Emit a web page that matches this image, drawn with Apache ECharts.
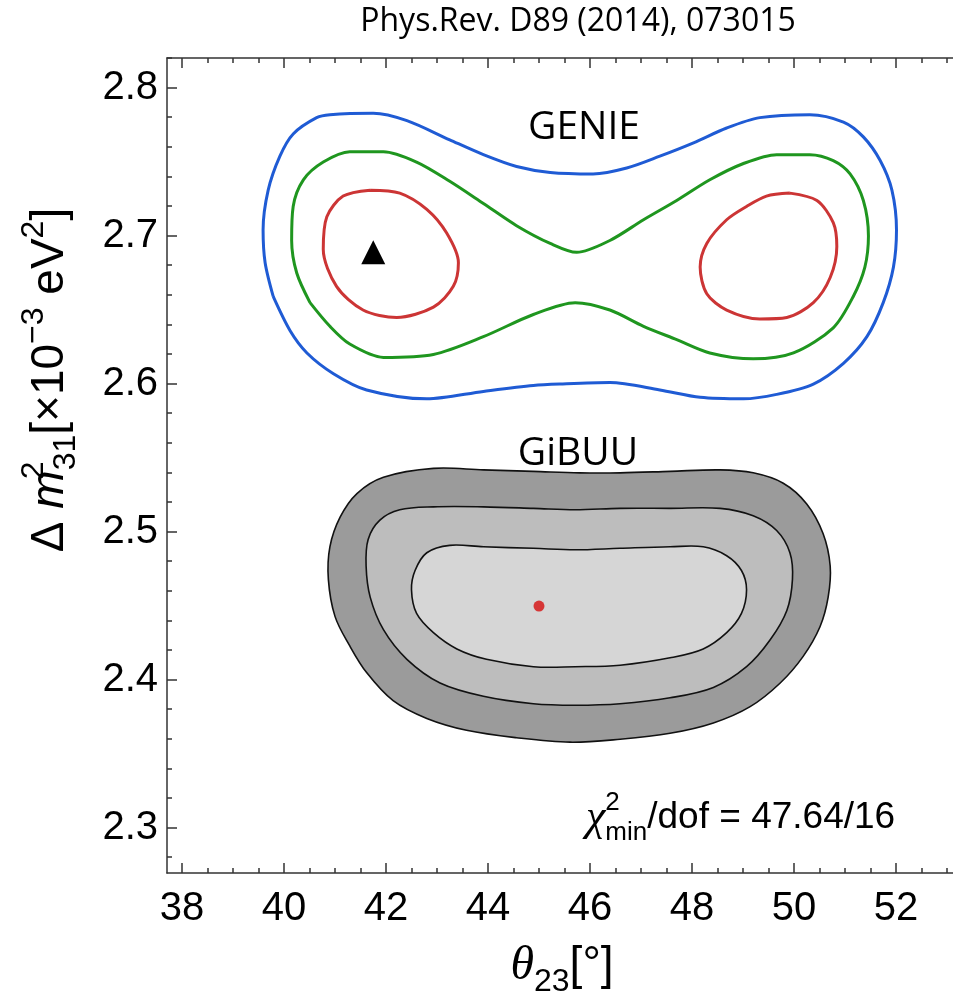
<!DOCTYPE html>
<html>
<head>
<meta charset="utf-8">
<script src="https://cdn.jsdelivr.net/npm/echarts@6/dist/echarts.min.js"></script>
<style>
  html, body { margin: 0; padding: 0; background: #fff; }
  #chart { width: 953px; height: 999px; }
</style>
</head>
<body>
<div id="chart"></div>
<script>
// theta23 [deg], dm2_31 [1e-3 eV^2]
const xTicks = [38, 40, 42, 44, 46, 48, 50, 52]
const yTicks = [2.3, 2.4, 2.5, 2.6, 2.7, 2.8]

// GENIE contours (3, 2, 1 sigma)
const genie3sigma = [[39.79,2.659],[39.63,2.682],[39.59,2.704],[39.69,2.731],[39.92,2.754],[40.18,2.769],[40.64,2.780],[40.90,2.782],[41.75,2.783],[42.41,2.778],[43.25,2.765],[43.91,2.755],[44.56,2.747],[45.22,2.743],[46.06,2.742],[46.72,2.746],[47.37,2.754],[48.03,2.763],[48.68,2.773],[49.33,2.780],[50.31,2.782],[50.97,2.777],[51.36,2.767],[51.69,2.751],[51.92,2.731],[52.01,2.704],[51.95,2.679],[51.75,2.655],[51.43,2.632],[50.97,2.614],[50.38,2.600],[49.66,2.593],[49.01,2.590],[48.16,2.591],[47.37,2.596],[46.39,2.601],[45.41,2.600],[44.89,2.599],[43.91,2.595],[42.80,2.590],[41.62,2.596],[40.97,2.607],[40.45,2.621],[40.12,2.636],[39.79,2.659]]
const genie2sigma = [[40.51,2.655],[40.25,2.675],[40.15,2.697],[40.18,2.720],[40.38,2.738],[40.77,2.750],[41.29,2.757],[41.95,2.757],[42.60,2.750],[43.25,2.737],[43.91,2.722],[44.56,2.707],[45.22,2.695],[45.74,2.689],[46.39,2.697],[47.05,2.711],[47.70,2.724],[48.35,2.738],[49.01,2.749],[49.66,2.755],[50.31,2.755],[50.77,2.751],[51.10,2.742],[51.36,2.724],[51.46,2.700],[51.39,2.679],[51.16,2.659],[50.77,2.638],[49.99,2.621],[49.20,2.617],[48.35,2.621],[47.70,2.630],[47.05,2.639],[46.39,2.650],[45.71,2.655],[44.89,2.647],[43.91,2.632],[42.93,2.620],[41.95,2.618],[41.29,2.627],[40.90,2.639],[40.51,2.655]]
const genie1sigmaLeft = [[41.69,2.731],[42.27,2.729],[42.80,2.718],[43.19,2.702],[43.42,2.682],[43.32,2.666],[42.93,2.652],[42.21,2.645],[41.55,2.650],[41.03,2.666],[40.77,2.691],[40.84,2.713],[41.16,2.727],[41.69,2.731]]
const genie1sigmaRight = [[49.92,2.729],[50.45,2.724],[50.77,2.709],[50.84,2.693],[50.71,2.672],[50.38,2.655],[49.86,2.645],[49.33,2.644],[48.68,2.650],[48.29,2.661],[48.16,2.679],[48.29,2.695],[48.68,2.711],[49.07,2.720],[49.46,2.727],[49.92,2.729]]
const genieBest = [[41.75, 2.689]]

// GiBUU filled contours
const gibuuOuter = [[41.95,2.537],[42.93,2.543],[43.91,2.542],[44.89,2.541],[45.80,2.540],[46.59,2.540],[47.57,2.541],[48.55,2.542],[49.20,2.540],[49.79,2.533],[50.25,2.519],[50.57,2.499],[50.71,2.477],[50.67,2.456],[50.51,2.436],[50.18,2.416],[49.73,2.398],[49.14,2.382],[48.42,2.371],[47.57,2.364],[46.59,2.360],[45.61,2.358],[44.56,2.361],[43.58,2.366],[42.80,2.374],[42.14,2.386],[41.62,2.405],[41.29,2.423],[41.00,2.443],[40.87,2.468],[40.90,2.490],[41.10,2.510],[41.43,2.526]]
const gibuuMiddle = [[42.27,2.515],[42.93,2.517],[43.91,2.517],[44.89,2.516],[45.71,2.515],[46.59,2.516],[47.57,2.516],[48.55,2.516],[49.20,2.511],[49.66,2.501],[49.92,2.486],[49.97,2.468],[49.86,2.447],[49.53,2.427],[49.07,2.409],[48.42,2.395],[47.57,2.388],[46.59,2.384],[45.71,2.383],[44.89,2.384],[43.91,2.389],[43.06,2.398],[42.41,2.414],[41.95,2.434],[41.69,2.456],[41.61,2.477],[41.65,2.495],[41.88,2.508]]
const gibuuInner = [[42.80,2.486],[43.25,2.491],[43.91,2.490],[44.89,2.489],[45.71,2.488],[46.59,2.489],[47.57,2.490],[48.22,2.490],[48.68,2.484],[48.97,2.474],[49.07,2.461],[48.97,2.445],[48.68,2.432],[48.22,2.421],[47.57,2.415],[46.59,2.410],[45.71,2.409],[44.89,2.409],[43.97,2.414],[43.39,2.421],[42.93,2.432],[42.60,2.445],[42.50,2.461],[42.57,2.474]]
const gibuuBest = [[45.0, 2.45]]

const FRAME = '#333'
const SANS = 'Liberation Sans'
const SERIF = 'Liberation Serif'

const chart = echarts.init(document.getElementById('chart'))

const hidden = (gridIndex) => ({ gridIndex, type: 'value', min: 0, max: 1, show: false })

// frame side: axis line only
const frameAxis = (gridIndex, position, min, max) => ({
  gridIndex,
  type: 'value',
  position,
  min,
  max,
  axisLine: { show: true, onZero: false, lineStyle: { color: FRAME, width: 1.5 } },
  axisTick: { show: false },
  axisLabel: { show: false },
  splitLine: { show: false }
})

const tickAxis = (gridIndex, position, min, max, interval, length, labels) => ({
  gridIndex,
  type: 'value',
  position,
  min,
  max,
  interval,
  axisLine: { show: false },
  axisTick: { inside: true, length, lineStyle: { color: FRAME, width: 1.5 } },
  axisLabel: labels
    ? {
        show: true,
        fontSize: 40,
        fontFamily: SANS,
        color: '#000',
        margin: labels.margin,
        formatter: labels.formatter
      }
    : { show: false },
  splitLine: { show: false }
})

const contourLine = (data, color) => ({
  type: 'line',
  xAxisIndex: 0,
  yAxisIndex: 0,
  data,
  smooth: 0.3,
  symbol: 'none',
  silent: true,
  lineStyle: { color, width: 3 }
})

const filledContour = (points, fill) => ({
  type: 'custom',
  xAxisIndex: 0,
  yAxisIndex: 0,
  silent: true,
  data: [points[0]],
  renderItem: (params, api) => ({
    type: 'polygon',
    shape: { points: points.map(p => api.coord(p)), smooth: 0.35 },
    style: { fill, stroke: '#111', lineWidth: 1.6 }
  })
})

const txt = (x, y, text, extra) => Object.assign({
  type: 'text',
  x,
  y,
  z: 100,
  silent: true,
  style: Object.assign({
    text,
    align: 'center',
    textAlign: 'center',
    verticalAlign: 'middle',
    textVerticalAlign: 'middle',
    fill: '#000'
  }, extra.style)
}, extra.el || {})

const tok = (o) => Object.assign({ fill: '#000', color: '#000', fontFamily: SANS }, o)

const X_MIN = 37.706, X_MAX = 53.118
const Y_MIN = 2.2696, Y_MAX = 2.8203

const option = {
  animation: false,
  backgroundColor: '#fff',
  grid: [
    { left: 167, top: 58, width: 786, bottom: 126 },
    { left: 182, top: 58, width: 714, bottom: 126 },
    { left: 182, top: 58, width: 765, bottom: 126 },
    { left: 167, top: 88, width: 786, height: 740 },
    { left: 167, top: 58, width: 786, height: 799.2 }
  ],
  xAxis: [
    frameAxis(0, 'bottom', X_MIN, X_MAX),
    frameAxis(0, 'top', X_MIN, X_MAX),
    tickAxis(1, 'bottom', xTicks[0], xTicks[xTicks.length - 1], xTicks[1] - xTicks[0], 10, { margin: 16 }),
    tickAxis(1, 'top', xTicks[0], xTicks[xTicks.length - 1], xTicks[1] - xTicks[0], 10, null),
    tickAxis(2, 'bottom', 38, 53, 0.5, 5, null),
    tickAxis(2, 'top', 38, 53, 0.5, 5, null),
    hidden(3),
    hidden(4)
  ],
  yAxis: [
    frameAxis(0, 'left', Y_MIN, Y_MAX),
    hidden(1),
    hidden(2),
    tickAxis(3, 'left', yTicks[0], yTicks[yTicks.length - 1], 0.1, 10, { margin: 9, formatter: v => v.toFixed(1) }),
    tickAxis(4, 'left', 2.28, 2.82, 0.02, 5, null)
  ],
  series: [
    filledContour(gibuuOuter, '#9b9b9b'),
    filledContour(gibuuMiddle, '#bdbdbd'),
    filledContour(gibuuInner, '#d6d6d6'),
    contourLine(genie3sigma, '#1f5bd4'),
    contourLine(genie2sigma, '#1f961f'),
    contourLine(genie1sigmaLeft, '#cc3535'),
    contourLine(genie1sigmaRight, '#cc3535'),
    {
      type: 'scatter',
      xAxisIndex: 0,
      yAxisIndex: 0,
      data: genieBest,
      symbol: 'triangle',
      symbolSize: 24,
      itemStyle: { color: '#000', opacity: 1 },
      silent: true
    },
    {
      type: 'scatter',
      xAxisIndex: 0,
      yAxisIndex: 0,
      data: gibuuBest,
      symbol: 'circle',
      symbolSize: 11,
      itemStyle: { color: '#d63636', opacity: 1 },
      silent: true
    }
  ],
  graphic: [
    txt(578, 22, 'Phys.Rev. D89 (2014), 073015', { style: { fontSize: 32, fontFamily: 'Open Sans' } }),
    txt(584, 128, 'GENIE', { style: { fontSize: 39, fontFamily: 'Open Sans' } }),
    txt(578, 454, 'GiBUU', { style: { fontSize: 39, fontFamily: 'Open Sans' } }),
    txt(586, 818, '{c|χ}{s0|2}{b|min}{n|/dof = 47.64/16}', {
      style: {
        align: 'left',
        textAlign: 'left',
        rich: {
          c: tok({ fontSize: 44, fontFamily: SERIF, fontStyle: 'italic', lineHeight: 56 }),
          s0: tok({ fontSize: 26, width: 0, lineHeight: 26, verticalAlign: 'top' }),
          b: tok({ fontSize: 26, lineHeight: 30, verticalAlign: 'bottom' }),
          n: tok({ fontSize: 37, lineHeight: 56 })
        }
      }
    }),
    txt(562, 966, '{t|θ}{b|23}{n|[°]}', {
      style: {
        rich: {
          t: tok({ fontSize: 48, fontFamily: SERIF, fontStyle: 'italic', lineHeight: 64 }),
          b: tok({ fontSize: 32, lineHeight: 36, verticalAlign: 'bottom' }),
          n: tok({ fontSize: 46, lineHeight: 64 })
        }
      }
    }),
    txt(50, 380, '{n|Δ }{m|m}{s0|2}{b|31}{n|[×10}{s|−3}{n| eV}{s|2}{n|]}', {
      el: { rotation: Math.PI / 2 },
      style: {
        rich: {
          n: tok({ fontSize: 46, lineHeight: 64 }),
          m: tok({ fontSize: 46, fontStyle: 'italic', lineHeight: 64 }),
          s0: tok({ fontSize: 32, width: 0, lineHeight: 30, verticalAlign: 'top' }),
          s: tok({ fontSize: 32, lineHeight: 30, verticalAlign: 'top' }),
          b: tok({ fontSize: 32, lineHeight: 36, verticalAlign: 'bottom' })
        }
      }
    })
  ]
}

chart.setOption(option)
</script>
</body>
</html>
